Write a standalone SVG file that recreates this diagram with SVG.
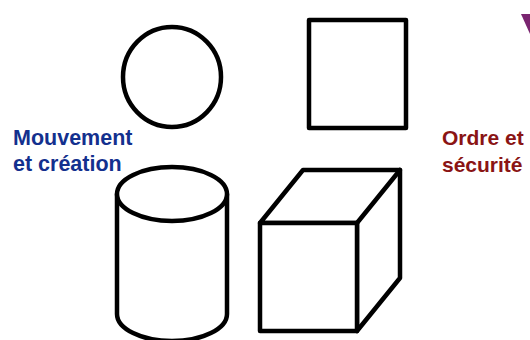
<svg xmlns="http://www.w3.org/2000/svg" width="530" height="340" viewBox="0 0 530 340">
<style>
.s{fill:#fff;stroke:#000;stroke-width:4.5;stroke-linejoin:round;stroke-linecap:round}
.t{font-family:"Liberation Sans",Arial,sans-serif;font-weight:bold}
</style>
<rect width="530" height="340" fill="#fff"/>
<g id="triangle"><polygon points="521,14 541,14 530,34" fill="#7a2570"/></g>
<g id="circle"><ellipse class="s" cx="172" cy="77" rx="49" ry="50"/></g>
<g id="square"><rect class="s" x="309" y="20" width="97" height="108"/></g>
<g id="cylinder">
<path class="s" d="M117,194 L117,314 A55,27 0 0 0 227,314 L227,194"/>
<ellipse class="s" cx="172" cy="194" rx="55" ry="27"/>
</g>
<g id="cube">
<polygon class="s" points="260,223 303,170 400,170 400,278 357,331 357,223"/>
<line class="s" x1="357" y1="223" x2="400" y2="170"/>
<rect class="s" x="260" y="223" width="97" height="108"/>
</g>
<g id="label-left">
<text class="t" x="13" y="145" font-size="21.5" fill="#13308e">Mouvement</text>
<text class="t" x="13" y="171" font-size="21.5" fill="#13308e">et création</text>
</g>
<g id="label-right">
<text class="t" x="442" y="145" font-size="21" fill="#8a1414">Ordre et</text>
<text class="t" x="442" y="172" font-size="21" fill="#8a1414">sécurité</text>
</g>
</svg>
